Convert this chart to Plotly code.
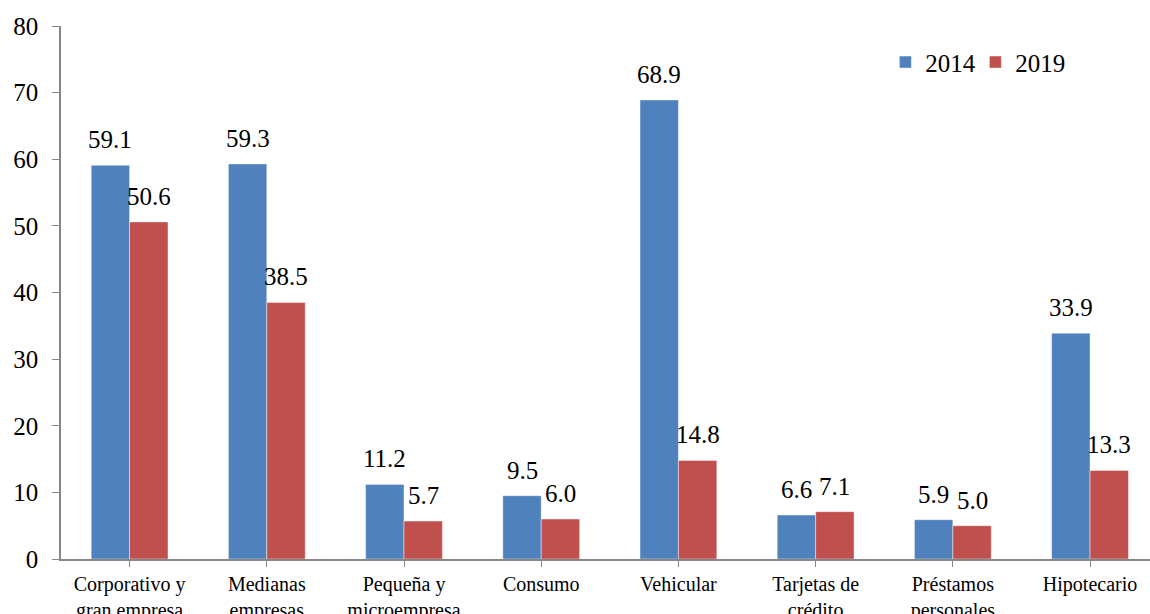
import plotly.graph_objects as go

categories = [
    "Corporativo y<br>gran empresa",
    "Medianas<br>empresas",
    "Pequeña y<br>microempresa",
    "Consumo",
    "Vehicular",
    "Tarjetas de<br>crédito",
    "Préstamos<br>personales",
    "Hipotecario",
]
values_2014 = [59.1, 59.3, 11.2, 9.5, 68.9, 6.6, 5.9, 33.9]
values_2019 = [50.6, 38.5, 5.7, 6.0, 14.8, 7.1, 5.0, 13.3]
y_ticks = [0, 10, 20, 30, 40, 50, 60, 70, 80]

FONT = "Liberation Serif"
BLUE = "#4F81BD"
RED = "#C0504D"
AXIS = "#868686"

W, H = 1150, 614
M_L, M_R, M_T, M_B = 61, 0, 26, 55
BARGAP = 0.44
X_RANGE = [-0.5, 7.437]

fig = go.Figure()
for name, vals, col in [("2014", values_2014, BLUE), ("2019", values_2019, RED)]:
    fig.add_trace(go.Bar(
        x=list(range(len(categories))), y=vals, name=name,
        marker=dict(color=col, line=dict(color="rgba(255,255,255,0.55)", width=0.8)),
    ))

# value labels centred over each bar
px_per_cat = (W - M_L - M_R) / (X_RANGE[1] - X_RANGE[0])
half_bar = px_per_cat * (1 - BARGAP) / 4
annotations = []
for i in range(len(categories)):
    for vals, sgn in [(values_2014, -1), (values_2019, 1)]:
        annotations.append(dict(
            x=i, y=vals[i], xref="x", yref="y", text=f"{vals[i]:.1f}",
            showarrow=False, xanchor="center", yanchor="bottom",
            xshift=sgn * half_bar, yshift=10,
            font=dict(family=FONT, size=25, color="black"),
        ))

fig.update_layout(
    width=W, height=H,
    margin=dict(l=M_L, r=M_R, t=M_T, b=M_B, pad=0, autoexpand=False),
    paper_bgcolor="white", plot_bgcolor="white",
    barmode="group", bargap=BARGAP, bargroupgap=0,
    font=dict(family=FONT, size=20, color="black"),
    annotations=annotations,
    legend=dict(
        orientation="h", x=0.757, y=0.975, xanchor="left", yanchor="top",
        font=dict(family=FONT, size=25, color="black"),
        bgcolor="rgba(0,0,0,0)", itemwidth=30, entrywidth=45,
    ),
    showlegend=True,
)
fig.update_xaxes(
    range=X_RANGE, tickmode="array", automargin=False,
    tickvals=list(range(len(categories))), ticktext=categories,
    tickson="boundaries", ticks="outside", ticklen=6, tickcolor=AXIS,
    showline=True, linecolor=AXIS, linewidth=1.5,
    showgrid=False, zeroline=False,
    tickfont=dict(family=FONT, size=20, color="black"),
)
fig.update_yaxes(
    range=[0, 80], tickmode="array", tickvals=y_ticks, automargin=False,
    ticks="outside", ticklen=7, tickcolor=AXIS,
    showline=True, linecolor=AXIS, linewidth=1.5,
    showgrid=False, zeroline=False, ticklabelstandoff=9,
    tickfont=dict(family=FONT, size=25, color="black"),
)

fig.write_html("out.html")
